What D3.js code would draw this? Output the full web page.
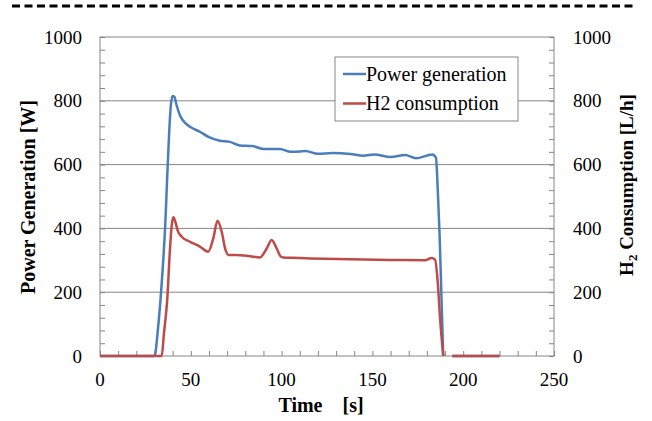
<!DOCTYPE html>
<html>
<head>
<meta charset="utf-8">
<script src="https://cdn.jsdelivr.net/npm/d3@7"></script>
<style>
  body { margin: 0; background: #fff; }
  svg, svg text { font-family: "Liberation Serif", "Times New Roman", Times, serif; }
</style>
</head>
<body>
<svg id="mychart" width="652" height="421"></svg>
<script>
// time [s] and values, null = gap in the logged data
const powerTime = [0, 10, 20, 30, 32, 34, 36, 37, 38, 39, 40, 41, 42, 44, 47, 50, 55, 60, 66, 71, 77, 84, 90, 99, 105, 110, 113, 120, 128, 138, 145, 151, 160, 168, 174, 183, 185, 186, 187, 188, 189, 191, 194, 200, 210, 220];
const powerW = [0, 0, 0, 0, 90, 230, 420, 560, 690, 785, 815, 812, 790, 755, 730, 717, 703, 686, 675, 672, 660, 658, 649, 649, 640, 641, 643, 634, 636, 633, 628, 632, 624, 630, 620, 632, 622, 520, 380, 190, 0, null, 0, 0, 0, 0];

const h2Time = [0, 10, 20, 30, 34, 35.2, 37, 38.5, 39.5, 40.4, 41.5, 43, 45, 49.6, 55, 59.6, 62.4, 64.7, 67, 69, 70.7, 75, 82.6, 88, 91.8, 94.5, 97.3, 99.5, 101, 106, 116, 138, 160, 179, 182.6, 184.5, 186, 187.2, 189, 191, 194, 200, 210, 220];
const h2Lh = [0, 0, 0, 0, 0, 70, 175, 332, 410, 435, 420, 390, 374, 358, 343, 327, 369, 424, 390, 335, 317, 317, 313, 309, 337, 364, 337, 312, 309, 308, 306, 303, 301, 300, 307, 302, 230, 123, 0, null, 0, 0, 0, 0];

const xTicks = [0, 50, 100, 150, 200, 250];
const yTicks = [0, 200, 400, 600, 800, 1000];
const seriesNames = ["Power generation", "H2 consumption"];
const colors = ["#4a7ebb", "#be4b48"];

const margin = { top: 37, left: 100, right: 98, bottom: 65 },
  width = 652,
  height = 421,
  innerWidth = width - margin.left - margin.right,
  innerHeight = height - margin.top - margin.bottom;

const svg = d3.select("#mychart");
const gray = "#868686";
const serif = '"Liberation Serif", "Times New Roman", Times, serif';

// dashed rule at the top of the page
svg.append("line")
  .attr("x1", 12).attr("x2", 637).attr("y1", 6).attr("y2", 6)
  .attr("stroke", "#000").attr("stroke-width", 3)
  .attr("stroke-dasharray", "8,4.5");

const g = svg.append("g").attr("transform", `translate(${margin.left},${margin.top})`);

const xScale = d3.scaleLinear().domain([0, 250]).range([0, innerWidth]);
const yScale = d3.scaleLinear().domain([0, 1000]).range([innerHeight, 0]);

// gridlines
g.selectAll(".grid")
  .data(yTicks.slice(1, -1))
  .join("line")
  .attr("class", "grid")
  .attr("x1", 0).attr("x2", innerWidth)
  .attr("y1", (d) => yScale(d)).attr("y2", (d) => yScale(d))
  .attr("stroke", gray).attr("stroke-width", 1);

// plot frame
g.append("rect")
  .attr("width", innerWidth).attr("height", innerHeight)
  .attr("fill", "none").attr("stroke", gray).attr("stroke-width", 1);

const minorY = d3.range(0, 1001, 40);
const minorX = d3.range(0, 251, 10);

// tick marks only, labels are placed separately
function ticksOnly(sel) {
  sel.select(".domain").remove();
  sel.selectAll(".tick line").attr("stroke", gray);
  sel.selectAll(".tick text").remove();
}

// inward ticks
g.append("g").call(d3.axisRight(yScale).tickValues(minorY).tickSize(5))
  .call(ticksOnly);
g.append("g").attr("transform", `translate(${innerWidth},0)`)
  .call(d3.axisLeft(yScale).tickValues(minorY).tickSize(5))
  .call(ticksOnly);
g.append("g").attr("transform", `translate(0,${innerHeight})`)
  .call(d3.axisTop(xScale).tickValues(minorX).tickSize(5))
  .call(ticksOnly);

// tick labels
const labelFont = (sel) => sel.style("font-family", serif).style("font-size", "19px").attr("fill", "#000");
g.selectAll(".ylab-left")
  .data(yTicks).join("text")
  .attr("class", "ylab-left")
  .attr("x", -18).attr("y", (d) => yScale(d) + 6.5)
  .attr("text-anchor", "end")
  .call(labelFont)
  .text((d) => d);
g.selectAll(".ylab-right")
  .data(yTicks).join("text")
  .attr("class", "ylab-right")
  .attr("x", innerWidth + 19).attr("y", (d) => yScale(d) + 6.5)
  .attr("text-anchor", "start")
  .call(labelFont)
  .text((d) => d);
g.selectAll(".xlab")
  .data(xTicks).join("text")
  .attr("class", "xlab")
  .attr("x", (d) => xScale(d)).attr("y", innerHeight + 30)
  .attr("text-anchor", "middle")
  .call(labelFont)
  .text((d) => d);

// lines
const lineGen = (times) => d3.line()
  .defined((d) => d != null)
  .x((d, i) => xScale(times[i]))
  .y((d) => yScale(d))
  .curve(d3.curveMonotoneX);

g.append("path")
  .attr("d", lineGen(powerTime)(powerW))
  .attr("fill", "none").attr("stroke", colors[0]).attr("stroke-width", 2.5)
  .attr("stroke-linejoin", "round");
g.append("path")
  .attr("d", lineGen(h2Time)(h2Lh))
  .attr("fill", "none").attr("stroke", colors[1]).attr("stroke-width", 2.5)
  .attr("stroke-linejoin", "round");

// legend
const legend = svg.append("g").attr("transform", "translate(335,57)");
legend.append("rect").attr("width", 183).attr("height", 64)
  .attr("fill", "#fff").attr("stroke", gray).attr("stroke-width", 1);
seriesNames.forEach((name, i) => {
  const ly = 17 + i * 29.5;
  legend.append("line").attr("x1", 8).attr("x2", 31).attr("y1", ly).attr("y2", ly)
    .attr("stroke", colors[i]).attr("stroke-width", 2.5);
  legend.append("text").attr("x", 31).attr("y", ly + 6.5)
    .style("font-family", serif).style("font-size", "20px").text(name);
});

// axis titles
svg.append("text")
  .attr("transform", "translate(35,197) rotate(-90)")
  .attr("text-anchor", "middle").attr("font-weight", "bold")
  .style("font-family", serif).style("font-size", "20px")
  .text("Power Generation [W]");

svg.append("text")
  .attr("x", 321).attr("y", 412)
  .attr("text-anchor", "middle").attr("font-weight", "bold")
  .style("font-family", serif).style("font-size", "20px")
  .text("Time\u00a0\u00a0\u00a0\u00a0[s]");

const rt = svg.append("text")
  .attr("transform", "translate(633,185) rotate(-90)")
  .attr("text-anchor", "middle").attr("font-weight", "bold")
  .style("font-family", serif).style("font-size", "19px");
rt.append("tspan").text("H");
rt.append("tspan").style("font-size", "13px").attr("dy", 4).text("2");
rt.append("tspan").attr("dy", -4).text(" Consumption [L/h]");
</script>
</body>
</html>
